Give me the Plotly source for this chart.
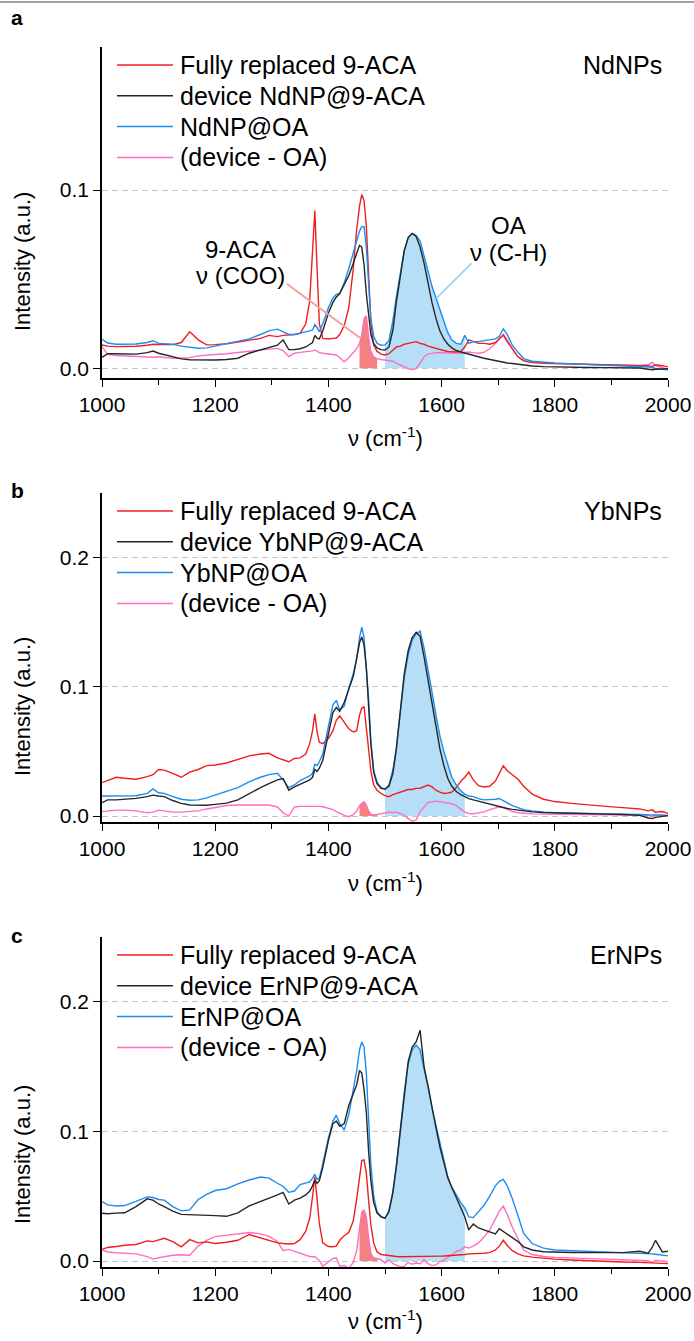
import plotly.graph_objects as go

W, H = 694, 1341

# ---------------- data ----------------
NU = [1000, 1010, 1025, 1040, 1060, 1080, 1090, 1100, 1110, 1125, 1140, 1155, 1170, 1185, 1200,
      1220, 1240, 1260, 1280, 1295, 1310, 1320, 1330, 1340, 1350, 1360, 1367, 1372, 1376, 1380,
      1384, 1390, 1400, 1408, 1414, 1420, 1428, 1436, 1444, 1450, 1455, 1459, 1463, 1467, 1471,
      1475, 1480, 1486, 1493, 1500, 1507, 1514, 1520, 1527, 1534, 1541, 1548, 1555, 1562, 1569,
      1576, 1583, 1590, 1597, 1604, 1611, 1618, 1626, 1634, 1641, 1648, 1656, 1665, 1675, 1685,
      1695, 1702, 1709, 1716, 1725, 1735, 1745, 1760, 1780, 1800, 1830, 1860, 1890, 1920, 1950,
      1965, 1972, 1978, 1990, 2000]

# Panel a : NdNPs
A_RED = [0.0131, 0.0125, 0.0122, 0.0123, 0.0124, 0.0130, 0.0135, 0.0134, 0.0132, 0.0133, 0.0145, 0.0205, 0.0160, 0.0132, 0.0133,
         0.0138, 0.0148, 0.0160, 0.0168, 0.0185, 0.0178, 0.0185, 0.0187, 0.0190, 0.0196, 0.0250, 0.0380, 0.0640, 0.0885, 0.0560,
         0.0250, 0.0168, 0.0165, 0.0168, 0.0170, 0.0190, 0.0240, 0.0340, 0.0560, 0.0780, 0.0910, 0.0975, 0.0940, 0.0800, 0.0520,
         0.0260, 0.0130, 0.0095, 0.0080, 0.0075, 0.0082, 0.0100, 0.0120, 0.0125, 0.0135, 0.0140, 0.0145, 0.0150, 0.0140, 0.0135,
         0.0125, 0.0118, 0.0112, 0.0105, 0.0100, 0.0095, 0.0093, 0.0092, 0.0095, 0.0120, 0.0160, 0.0150, 0.0140, 0.0140, 0.0135,
         0.0145, 0.0165, 0.0187, 0.0150, 0.0110, 0.0065, 0.0042, 0.0032, 0.0028, 0.0027, 0.0025, 0.0024, 0.0022, 0.0020, 0.0018,
         0.0015, 0.0010, 0.0020, 0.0015, 0.0008]
A_DEV = [0.0062, 0.0082, 0.0082, 0.0080, 0.0080, 0.0088, 0.0097, 0.0085, 0.0078, 0.0065, 0.0053, 0.0048, 0.0047, 0.0047, 0.0047,
         0.0050, 0.0057, 0.0085, 0.0103, 0.0118, 0.0130, 0.0160, 0.0105, 0.0105, 0.0110, 0.0120, 0.0135, 0.0145, 0.0185, 0.0170,
         0.0165, 0.0210, 0.0310, 0.0370, 0.0400, 0.0420, 0.0470, 0.0520, 0.0590, 0.0640, 0.0690, 0.0680, 0.0580, 0.0420, 0.0300,
         0.0190, 0.0140, 0.0115, 0.0105, 0.0103, 0.0120, 0.0215, 0.0370, 0.0530, 0.0660, 0.0735, 0.0757, 0.0740, 0.0680, 0.0590,
         0.0470, 0.0370, 0.0280, 0.0210, 0.0165, 0.0135, 0.0115, 0.0100, 0.0092, 0.0085, 0.0078, 0.0072, 0.0065, 0.0057, 0.0050,
         0.0043, 0.0038, 0.0035, 0.0030, 0.0027, 0.0022, 0.0018, 0.0013, 0.0010, 0.0008, 0.0006, 0.0005, 0.0004, 0.0003, 0.0002,
         -0.0005, -0.0008, -0.0005, -0.0003, -0.0002]
A_OA = [0.0163, 0.0142, 0.0135, 0.0135, 0.0137, 0.0145, 0.0155, 0.0140, 0.0137, 0.0135, 0.0125, 0.0118, 0.0113, 0.0115, 0.0125,
        0.0135, 0.0148, 0.0165, 0.0190, 0.0210, 0.0220, 0.0205, 0.0190, 0.0190, 0.0196, 0.0205, 0.0210, 0.0215, 0.0245, 0.0230,
        0.0205, 0.0250, 0.0340, 0.0395, 0.0415, 0.0420, 0.0480, 0.0560, 0.0650, 0.0720, 0.0770, 0.0795, 0.0795, 0.0680, 0.0450,
        0.0280, 0.0180, 0.0140, 0.0130, 0.0132, 0.0155, 0.0270, 0.0400, 0.0530, 0.0660, 0.0730, 0.0757, 0.0745, 0.0715, 0.0630,
        0.0540, 0.0460, 0.0395, 0.0330, 0.0265, 0.0200, 0.0160, 0.0140, 0.0135, 0.0185, 0.0140, 0.0150, 0.0150, 0.0155, 0.0160,
        0.0165, 0.0180, 0.0222, 0.0190, 0.0130, 0.0090, 0.0055, 0.0040, 0.0033, 0.0030, 0.0025, 0.0022, 0.0018, 0.0015, 0.0010,
        0.0008, 0.0005, 0.0000, -0.0005, -0.0008]
A_DIFF = [0.0122, 0.0078, 0.0072, 0.0069, 0.0065, 0.0060, 0.0062, 0.0065, 0.0060, 0.0056, 0.0058, 0.0060, 0.0070, 0.0075, 0.0078,
          0.0082, 0.0090, 0.0094, 0.0102, 0.0108, 0.0112, 0.0100, 0.0066, 0.0085, 0.0090, 0.0093, 0.0095, 0.0098, 0.0103, 0.0095,
          0.0088, 0.0085, 0.0082, 0.0078, 0.0075, 0.0060, 0.0037, 0.0060, 0.0090, 0.0110, 0.0140, 0.0190, 0.0280, 0.0295, 0.0180,
          0.0095, 0.0065, 0.0055, 0.0050, 0.0047, 0.0045, 0.0040, 0.0030, 0.0018, 0.0010, -0.0002, -0.0006, -0.0002, 0.0030, 0.0065,
          0.0080, 0.0086, 0.0088, 0.0088, 0.0088, 0.0087, 0.0086, 0.0086, 0.0085, 0.0090, 0.0092, 0.0088, 0.0085, 0.0090, 0.0110,
          0.0140, 0.0165, 0.0190, 0.0160, 0.0110, 0.0065, 0.0045, 0.0035, 0.0030, 0.0028, 0.0026, 0.0024, 0.0022, 0.0020, 0.0015,
          0.0020, 0.0035, 0.0015, 0.0005, -0.0005]

# Panel b : YbNPs
B_RED = [0.0258, 0.0275, 0.0300, 0.0292, 0.0285, 0.0305, 0.0320, 0.0360, 0.0355, 0.0330, 0.0300, 0.0340, 0.0360, 0.0390, 0.0395,
         0.0410, 0.0440, 0.0465, 0.0480, 0.0485, 0.0450, 0.0435, 0.0420, 0.0445, 0.0450, 0.0480, 0.0560, 0.0660, 0.0790, 0.0650,
         0.0570, 0.0560, 0.0600, 0.0660, 0.0740, 0.0775, 0.0720, 0.0675, 0.0650, 0.0660, 0.0780, 0.0835, 0.0845, 0.0700, 0.0520,
         0.0350, 0.0240, 0.0200, 0.0175, 0.0158, 0.0150, 0.0165, 0.0175, 0.0185, 0.0195, 0.0205, 0.0205, 0.0214, 0.0215, 0.0225,
         0.0240, 0.0225, 0.0200, 0.0185, 0.0175, 0.0178, 0.0185, 0.0220, 0.0270, 0.0300, 0.0340, 0.0280, 0.0235, 0.0225, 0.0230,
         0.0270, 0.0330, 0.0389, 0.0350, 0.0320, 0.0285, 0.0230, 0.0170, 0.0130, 0.0112, 0.0098, 0.0085, 0.0075, 0.0065, 0.0055,
         0.0040, 0.0048, 0.0030, 0.0035, 0.0020]
B_DEV = [0.0103, 0.0125, 0.0125, 0.0128, 0.0137, 0.0150, 0.0162, 0.0155, 0.0150, 0.0120, 0.0098, 0.0085, 0.0082, 0.0083, 0.0090,
         0.0100, 0.0125, 0.0175, 0.0220, 0.0250, 0.0280, 0.0290, 0.0200, 0.0225, 0.0245, 0.0265, 0.0280, 0.0300, 0.0360, 0.0345,
         0.0370, 0.0430, 0.0640, 0.0800, 0.0840, 0.0810, 0.0880, 0.0980, 0.1080, 0.1220, 0.1340, 0.1385, 0.1320, 0.1150, 0.0880,
         0.0560, 0.0340, 0.0250, 0.0215, 0.0210, 0.0230, 0.0330, 0.0520, 0.0820, 0.1100, 0.1280, 0.1380, 0.1420, 0.1390, 0.1230,
         0.1050, 0.0850, 0.0680, 0.0520, 0.0390, 0.0290, 0.0230, 0.0190, 0.0165, 0.0150, 0.0135, 0.0125, 0.0115, 0.0105, 0.0090,
         0.0078, 0.0072, 0.0065, 0.0058, 0.0052, 0.0046, 0.0040, 0.0032, 0.0027, 0.0024, 0.0020, 0.0017, 0.0015, 0.0012, 0.0005,
         -0.0015, -0.0020, -0.0010, 0.0000, 0.0003]
B_OA = [0.0155, 0.0155, 0.0157, 0.0157, 0.0157, 0.0175, 0.0210, 0.0180, 0.0175, 0.0150, 0.0130, 0.0122, 0.0125, 0.0140, 0.0162,
        0.0195, 0.0220, 0.0265, 0.0300, 0.0320, 0.0330, 0.0280, 0.0220, 0.0240, 0.0275, 0.0295, 0.0310, 0.0330, 0.0400, 0.0390,
        0.0420, 0.0480, 0.0680, 0.0860, 0.0895, 0.0820, 0.0850, 0.0990, 0.1100, 0.1220, 0.1380, 0.1460, 0.1380, 0.1150, 0.0900,
        0.0580, 0.0350, 0.0260, 0.0220, 0.0205, 0.0240, 0.0360, 0.0520, 0.0800, 0.1070, 0.1250, 0.1360, 0.1410, 0.1430, 0.1300,
        0.1140, 0.0960, 0.0780, 0.0620, 0.0500, 0.0390, 0.0300, 0.0240, 0.0195, 0.0170, 0.0155, 0.0150, 0.0135, 0.0125, 0.0125,
        0.0130, 0.0136, 0.0120, 0.0100, 0.0080, 0.0065, 0.0050, 0.0040, 0.0030, 0.0026, 0.0022, 0.0020, 0.0018, 0.0015, 0.0012,
        0.0008, 0.0010, 0.0006, 0.0005, 0.0005]
B_DIFF = [0.0034, 0.0040, 0.0046, 0.0046, 0.0040, 0.0025, 0.0030, 0.0046, 0.0040, 0.0030, 0.0030, 0.0035, 0.0040, 0.0055, 0.0067,
          0.0082, 0.0085, 0.0085, 0.0082, 0.0085, 0.0070, 0.0025, 0.0000, 0.0070, 0.0075, 0.0075, 0.0075, 0.0075, 0.0078, 0.0075,
          0.0075, 0.0072, 0.0060, 0.0050, 0.0035, 0.0020, 0.0005, -0.0005, 0.0010, 0.0040, 0.0080, 0.0098, 0.0110, 0.0085, 0.0040,
          0.0015, 0.0008, 0.0012, 0.0018, 0.0025, 0.0030, 0.0028, 0.0030, 0.0020, 0.0005, -0.0020, -0.0040, -0.0030, 0.0035, 0.0070,
          0.0105, 0.0110, 0.0115, 0.0112, 0.0105, 0.0100, 0.0095, 0.0080, 0.0050, 0.0030, 0.0020, 0.0018, 0.0025, 0.0032, 0.0050,
          0.0065, 0.0072, 0.0065, 0.0050, 0.0035, 0.0025, 0.0020, 0.0017, 0.0015, 0.0014, 0.0013, 0.0012, 0.0012, 0.0010, 0.0008,
          0.0005, -0.0005, 0.0010, 0.0008, 0.0005]

# Panel c : ErNPs
C_RED = [0.0090, 0.0105, 0.0112, 0.0122, 0.0128, 0.0155, 0.0150, 0.0165, 0.0175, 0.0150, 0.0110, 0.0165, 0.0140, 0.0148, 0.0135,
         0.0145, 0.0160, 0.0205, 0.0180, 0.0160, 0.0140, 0.0135, 0.0132, 0.0135, 0.0165, 0.0230, 0.0330, 0.0500, 0.0650, 0.0480,
         0.0290, 0.0140, 0.0112, 0.0110, 0.0115, 0.0160, 0.0195, 0.0220, 0.0310, 0.0480, 0.0660, 0.0775, 0.0780, 0.0680, 0.0470,
         0.0280, 0.0140, 0.0070, 0.0050, 0.0045, 0.0040, 0.0036, 0.0035, 0.0033, 0.0033, 0.0033, 0.0034, 0.0033, 0.0035, 0.0034,
         0.0036, 0.0037, 0.0037, 0.0038, 0.0039, 0.0040, 0.0042, 0.0045, 0.0048, 0.0050, 0.0055, 0.0055, 0.0058, 0.0060, 0.0065,
         0.0085, 0.0115, 0.0160, 0.0120, 0.0080, 0.0055, 0.0040, 0.0030, 0.0022, 0.0015, 0.0008, 0.0002, -0.0003, -0.0008, -0.0010,
         -0.0012, -0.0015, -0.0012, -0.0018, -0.0020]
C_DEV = [0.0369, 0.0365, 0.0370, 0.0372, 0.0420, 0.0480, 0.0470, 0.0440, 0.0420, 0.0385, 0.0360, 0.0358, 0.0358, 0.0355, 0.0350,
         0.0345, 0.0372, 0.0425, 0.0458, 0.0480, 0.0510, 0.0530, 0.0440, 0.0470, 0.0485, 0.0510, 0.0540, 0.0580, 0.0625, 0.0600,
         0.0620, 0.0720, 0.0930, 0.1060, 0.1080, 0.1040, 0.1060, 0.1200, 0.1290, 0.1360, 0.1470, 0.1450, 0.1320, 0.1150, 0.0850,
         0.0620, 0.0450, 0.0370, 0.0340, 0.0330, 0.0380, 0.0530, 0.0728, 0.1000, 0.1310, 0.1540, 0.1650, 0.1690, 0.1780, 0.1500,
         0.1350, 0.1180, 0.1030, 0.0880, 0.0760, 0.0640, 0.0570, 0.0490, 0.0420, 0.0340, 0.0240, 0.0285, 0.0255, 0.0240, 0.0220,
         0.0210, 0.0250, 0.0230, 0.0210, 0.0180, 0.0150, 0.0110, 0.0085, 0.0072, 0.0068, 0.0066, 0.0065, 0.0066, 0.0065, 0.0075,
         0.0060, 0.0105, 0.0160, 0.0070, 0.0075]
C_OA = [0.0459, 0.0433, 0.0425, 0.0428, 0.0460, 0.0495, 0.0490, 0.0475, 0.0470, 0.0420, 0.0387, 0.0395, 0.0475, 0.0515, 0.0544,
        0.0558, 0.0595, 0.0625, 0.0648, 0.0640, 0.0600, 0.0575, 0.0530, 0.0540, 0.0590, 0.0600, 0.0610, 0.0640, 0.0670, 0.0630,
        0.0640, 0.0750, 0.0950, 0.1080, 0.1125, 0.1060, 0.1010, 0.1130, 0.1320, 0.1470, 0.1630, 0.1690, 0.1650, 0.1450, 0.1100,
        0.0750, 0.0500, 0.0380, 0.0345, 0.0330, 0.0390, 0.0540, 0.0728, 0.1000, 0.1300, 0.1520, 0.1630, 0.1666, 0.1630, 0.1480,
        0.1350, 0.1180, 0.1050, 0.0900, 0.0770, 0.0650, 0.0570, 0.0510, 0.0450, 0.0410, 0.0340, 0.0335, 0.0380, 0.0430, 0.0500,
        0.0580, 0.0615, 0.0630, 0.0580, 0.0480, 0.0350, 0.0213, 0.0135, 0.0100, 0.0085, 0.0080, 0.0075, 0.0072, 0.0068, 0.0062,
        0.0058, 0.0055, 0.0052, 0.0045, 0.0040]
C_DIFF = [0.0085, 0.0070, 0.0064, 0.0061, 0.0055, 0.0034, 0.0015, 0.0025, 0.0035, 0.0045, 0.0048, 0.0045, 0.0115, 0.0160, 0.0188,
          0.0200, 0.0212, 0.0220, 0.0210, 0.0190, 0.0150, 0.0080, 0.0090, 0.0075, 0.0060, 0.0045, 0.0035, 0.0033, 0.0035, 0.0020,
          0.0005, -0.0040, -0.0005, 0.0020, 0.0025, -0.0040, -0.0035, -0.0055, -0.0010, 0.0080, 0.0250, 0.0380, 0.0393, 0.0340, 0.0180,
          0.0060, 0.0025, 0.0020, 0.0010, -0.0015, 0.0010, -0.0020, -0.0030, -0.0045, -0.0040, -0.0010, -0.0025, -0.0015, -0.0020, 0.0010,
          -0.0020, -0.0035, -0.0030, -0.0005, 0.0005, 0.0030, 0.0045, 0.0075, 0.0085, 0.0110, 0.0100, 0.0115, 0.0140, 0.0185, 0.0240,
          0.0320, 0.0385, 0.0424, 0.0360, 0.0260, 0.0170, 0.0085, 0.0050, 0.0035, 0.0028, 0.0022, 0.0018, 0.0015, 0.0010, 0.0008,
          0.0002, -0.0010, 0.0005, 0.0000, -0.0005]

COO_BAND = (1455, 1486)   # 9-ACA nu(COO) shaded band
CH_BAND = (1500, 1641)    # OA nu(C-H) shaded band

PANELS = [
    dict(letter="a", sample="NdNPs", dev_name="device NdNP@9-ACA", oa_name="NdNP@OA",
         red=A_RED, dev=A_DEV, oa=A_OA, diff=A_DIFF, yticks=[0.0, 0.1]),
    dict(letter="b", sample="YbNPs", dev_name="device YbNP@9-ACA", oa_name="YbNP@OA",
         red=B_RED, dev=B_DEV, oa=B_OA, diff=B_DIFF, yticks=[0.0, 0.1, 0.2]),
    dict(letter="c", sample="ErNPs", dev_name="device ErNP@9-ACA", oa_name="ErNP@OA",
         red=C_RED, dev=C_DEV, oa=C_OA, diff=C_DIFF, yticks=[0.0, 0.1, 0.2]),
]

# ---------------- styling / layout ----------------
FONT = "Liberation Sans, Arial, Helvetica, sans-serif"
C_RED_LINE = "#F01E1E"
C_DEV_LINE = "#262626"
C_OA_LINE = "#1C8CF0"
C_DIFF_LINE = "#FF6EC0"
C_CH_FILL = "#B6DFF7"
C_COO_FILL = "#F2817F"

X_L, X_R = 102, 668
# (top px, bottom px, y-range, letter y px, y-title centre px, x-title px)
FRAMES = [(47, 378, [-0.0054, 0.1802], 18, 262, 437),
          (493, 822, [-0.0046, 0.2498], 490, 707, 882),
          (937, 1267, [-0.0046, 0.2500], 935, 1155, 1320)]


def px(xp):
    return xp / W


def py(yp):
    return 1 - yp / H


fig = go.Figure()
shapes = []
annotations = []

for i, (p, (top, bot, yr, let_y, yt_y, xt_y)) in enumerate(zip(PANELS, FRAMES)):
    sfx = "" if i == 0 else str(i + 1)
    xa, ya = "x" + sfx, "y" + sfx

    def sub(vals, band):
        xs = [n for n in NU if band[0] <= n <= band[1]]
        ys = [v for n, v in zip(NU, vals) if band[0] <= n <= band[1]]
        return xs, ys

    xs, ys = sub(p["oa"], CH_BAND)
    fig.add_trace(go.Scatter(x=xs, y=ys, mode="lines", fill="tozeroy", fillcolor=C_CH_FILL,
                             line=dict(width=0, color=C_CH_FILL), xaxis=xa, yaxis=ya, hoverinfo="skip"))
    xs, ys = sub(p["diff"], COO_BAND)
    fig.add_trace(go.Scatter(x=xs, y=ys, mode="lines", fill="tozeroy", fillcolor=C_COO_FILL,
                             line=dict(width=0, color=C_COO_FILL), xaxis=xa, yaxis=ya, hoverinfo="skip"))

    for vals, col, nm in [(p["diff"], C_DIFF_LINE, "(device - OA)"),
                          (p["red"], C_RED_LINE, "Fully replaced 9-ACA"),
                          (p["oa"], C_OA_LINE, p["oa_name"]),
                          (p["dev"], C_DEV_LINE, p["dev_name"])]:
        fig.add_trace(go.Scatter(x=NU, y=vals, mode="lines", name=nm,
                                 line=dict(color=col, width=1.4), xaxis=xa, yaxis=ya))

    fig.update_layout(**{
        "xaxis" + sfx: dict(domain=[px(X_L), px(X_R)], range=[1000, 2000], anchor=ya, automargin=False,
                            showline=True, linecolor="black", linewidth=1.5,
                            ticks="outside", ticklen=7, tickwidth=1.3, tickcolor="black",
                            tickvals=[1000, 1200, 1400, 1600, 1800, 2000],
                            minor=dict(tickvals=[1100, 1300, 1500, 1700, 1900], ticks="outside",
                                       ticklen=5, tickwidth=1.3, tickcolor="black", showgrid=False),
                            showgrid=False, zeroline=False,
                            tickfont=dict(family=FONT, size=21, color="black")),
        "yaxis" + sfx: dict(domain=[py(bot), py(top)], range=yr, anchor=xa, automargin=False,
                            showline=True, linecolor="black", linewidth=1.5,
                            ticks="outside", ticklen=7, tickwidth=1.3, tickcolor="black",
                            tickvals=p["yticks"], tickformat=".1f",
                            showgrid=True, gridcolor="#C4C4C4", gridwidth=1, griddash="6px,4px",
                            zeroline=False,
                            tickfont=dict(family=FONT, size=21, color="black")),
    })

    # panel letter
    annotations.append(dict(x=px(17), y=py(let_y), xref="paper", yref="paper", text="<b>%s</b>" % p["letter"],
                            showarrow=False, font=dict(family=FONT, size=21, color="black"),
                            xanchor="center", yanchor="middle"))
    # y title
    annotations.append(dict(x=px(22), y=py(yt_y), xref="paper", yref="paper",
                            text="Intensity (a.u.)", textangle=-90, showarrow=False,
                            font=dict(family=FONT, size=22, color="black"),
                            xanchor="center", yanchor="middle"))
    # x title
    annotations.append(dict(x=px((X_L + X_R) / 2), y=py(xt_y), xref="paper", yref="paper",
                            text="ν (cm<sup>-1</sup>)", showarrow=False,
                            font=dict(family=FONT, size=22, color="black"),
                            xanchor="center", yanchor="middle"))
    # sample name
    annotations.append(dict(x=px(X_R - 4), y=py(top + 18), xref="paper", yref="paper", text=p["sample"],
                            showarrow=False, font=dict(family=FONT, size=25, color="black"),
                            xanchor="right", yanchor="middle"))
    # legend (drawn by hand)
    items = [("Fully replaced 9-ACA", C_RED_LINE), (p["dev_name"], C_DEV_LINE),
             (p["oa_name"], C_OA_LINE), ("(device - OA)", C_DIFF_LINE)]
    for k, (lab, col) in enumerate(items):
        yy = top + 18 + k * 30.8
        shapes.append(dict(type="line", xref="paper", yref="paper", x0=px(117), x1=px(173),
                           y0=py(yy), y1=py(yy), line=dict(color=col, width=1.5)))
        annotations.append(dict(x=px(178), y=py(yy), xref="paper", yref="paper", text=lab,
                                showarrow=False, font=dict(family=FONT, size=25, color="black"),
                                xanchor="left", yanchor="middle"))

# panel a band labels
annotations += [
    dict(x=1244, y=0.0669, xref="x", yref="y", text="9-ACA", showarrow=False,
         font=dict(family=FONT, size=24, color="black"), xanchor="center", yanchor="middle"),
    dict(x=1244, y=0.0518, xref="x", yref="y", text="ν (COO)", showarrow=False,
         font=dict(family=FONT, size=24, color="black"), xanchor="center", yanchor="middle"),
    dict(x=1719, y=0.0802, xref="x", yref="y", text="OA", showarrow=False,
         font=dict(family=FONT, size=24, color="black"), xanchor="center", yanchor="middle"),
    dict(x=1719, y=0.0651, xref="x", yref="y", text="ν (C-H)", showarrow=False,
         font=dict(family=FONT, size=24, color="black"), xanchor="center", yanchor="middle"),
]
# leader lines from the labels to the shaded bands (panel a)
shapes += [
    dict(type="line", xref="x", yref="y", x0=1327, y0=0.0473, x1=1456, y1=0.017,
         line=dict(color="#F2A09E", width=2)),
    dict(type="line", xref="x", yref="y", x0=1591, y0=0.0393, x1=1653, y1=0.0589,
         line=dict(color="#A9D7F4", width=2)),
]

# thin rule at very top
shapes.append(dict(type="line", xref="paper", yref="paper", x0=0, x1=1, y0=py(2), y1=py(2),
                   line=dict(color="#444444", width=1)))

fig.update_layout(template="none", width=W, height=H, margin=dict(l=0, r=0, t=0, b=0, pad=0),
                  paper_bgcolor="white", plot_bgcolor="white", showlegend=False,
                  shapes=shapes, annotations=annotations, hovermode=False,
                  font=dict(family=FONT, color="black"))

fig.write_html("out.html", config={"displayModeBar": False})
